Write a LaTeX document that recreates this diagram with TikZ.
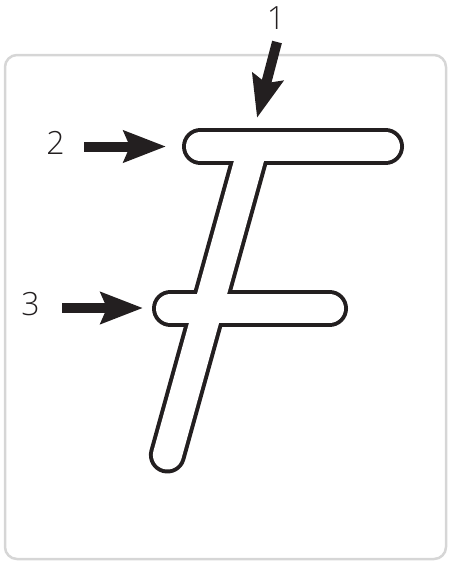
\documentclass[tikz,border=0pt]{standalone}
\usepackage{fontspec}
\setmainfont{Open Sans}
\newfontfamily\numfont{Open Sans Light}
\usetikzlibrary{arrows.meta}
\definecolor{ink}{HTML}{231F20}
\definecolor{panelgrey}{HTML}{D6D6D6}
\begin{document}
\begin{tikzpicture}[x=1pt,y=-1pt,
  panel/.style={draw=panelgrey, line width=2.5pt, rounded corners=12pt},
  outerstroke/.style={line width=37pt, line cap=round, draw=ink},
  innerstroke/.style={line width=29pt, line cap=round, draw=white},
  pointer/.style={line width=10pt, draw=ink, -{Stealth[length=42pt,width=31pt,inset=6pt]}},
  num/.style={font=\numfont\fontsize{32}{32}\selectfont, text=ink, inner sep=0pt}
]
\useasboundingbox (0,0) rectangle (448,562);
\draw[panel] (5,55) rectangle (446,559);
% letter F
\coordinate (tbL) at (200.5,146.5);
\coordinate (tbR) at (385.5,146.5);
\coordinate (mbL) at (170.5,308.5);
\coordinate (mbR) at (329.5,308.5);
\coordinate (stT) at (252,150);
\coordinate (stB) at (167.4,455);
\draw[outerstroke] (tbL) -- (tbR);
\draw[outerstroke] (mbL) -- (mbR);
\draw[outerstroke] (stT) -- (stB);
\draw[innerstroke] (tbL) -- (tbR);
\draw[innerstroke] (mbL) -- (mbR);
\draw[innerstroke] (stT) -- (stB);
% labels
\node[num] (n1) at (276,18) {1};
\node[num] (n2) at (55.5,143) {2};
\node[num] (n3) at (30.5,304) {3};
% arrows
\coordinate (a1s) at (277,42);
\coordinate (a1e) at (257,118);
\coordinate (a2s) at (84,146.5);
\coordinate (a2e) at (166,146.5);
\coordinate (a3s) at (62,308);
\coordinate (a3e) at (143,308);
\draw[pointer] (a1s) -- (a1e);
\draw[pointer] (a2s) -- (a2e);
\draw[pointer] (a3s) -- (a3e);
\end{tikzpicture}
\end{document}
